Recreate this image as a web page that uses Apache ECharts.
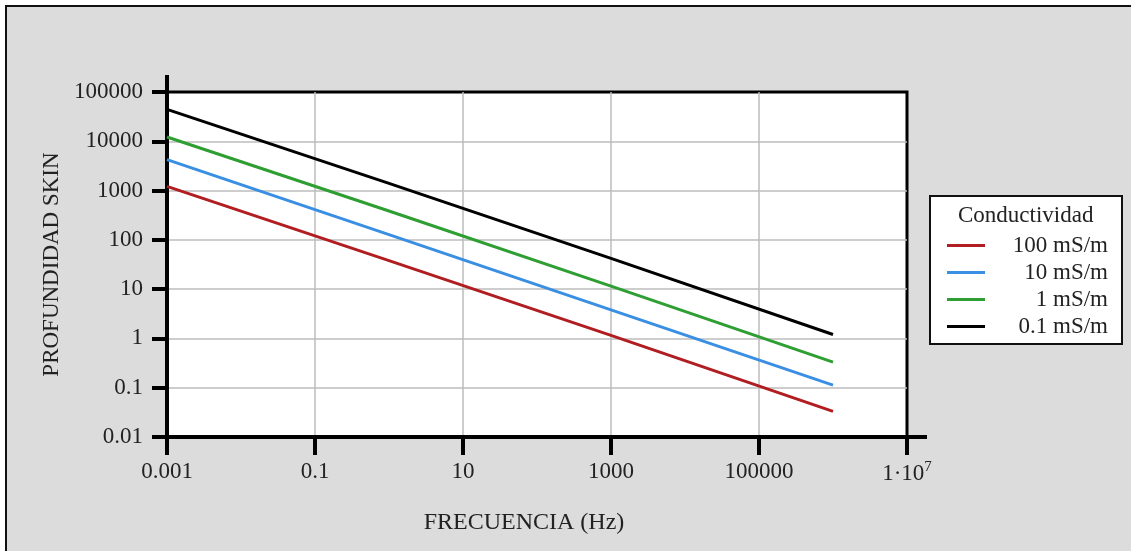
<!DOCTYPE html>
<html>
<head>
<meta charset="utf-8">
<script src="https://cdn.jsdelivr.net/npm/echarts@6/dist/echarts.min.js"></script>
<style>
  html, body { margin: 0; padding: 0; background: #ffffff; }
  #frame { position: absolute; left: 5px; top: 5px; width: 1126px; height: 546px;
           background: #dcdcdc; border-top: 2px solid #111; border-left: 2px solid #111; box-sizing: border-box; }
  #chart { position: absolute; left: 0; top: 0; width: 1131px; height: 551px; }
</style>
</head>
<body>
<div id="frame"></div>
<div id="chart"></div>
<script>
// ---- data ----
const frequencies = [0.001, 1, 1000, 1000000];           // Hz
const seriesNames = ['100 mS/m', '10 mS/m', '1 mS/m', '0.1 mS/m'];
const depth100mS  = [1220, 38, 1.15, 0.033];
const depth10mS   = [4250, 128, 3.8, 0.113];
const depth1mS    = [12200, 385, 11.5, 0.33];
const depth01mS   = [44500, 1400, 42, 1.2];
const seriesColors = ['#b01e22', '#3a8fe3', '#2f9e33', '#000000'];
const xTickLabels = ['0.001', '0.1', '10', '1000', '100000', '1·10^7'];
const yTickLabels = ['0.01', '0.1', '1', '10', '100', '1000', '10000', '100000'];
const xAxisTitle = 'FRECUENCIA (Hz)';
const yAxisTitle = 'PROFUNDIDAD SKIN';
const legendTitle = 'Conductividad';

const allDepths = [depth100mS, depth10mS, depth1mS, depth01mS];
const FONT = 'Liberation Serif';
const FS = 23;

function pairs(ys) { return frequencies.map((f, i) => [f, ys[i]]); }

const chart = echarts.init(document.getElementById('chart'), null, { renderer: 'canvas' });

const option = {
  backgroundColor: 'transparent',
  animation: false,
  grid: {
    left: 167, top: 92, right: 224, bottom: 114,
    show: true, backgroundColor: '#ffffff', borderColor: '#000', borderWidth: 3
  },
  xAxis: {
    type: 'log', logBase: 10, min: 0.001, max: 1e7, interval: 2,
    name: xAxisTitle, nameLocation: 'middle', nameGap: 74,
    nameTextStyle: { fontFamily: FONT, fontSize: 24, color: '#222', padding: [0, 26, 0, 0] },
    axisLine: { show: true, lineStyle: { color: '#000', width: 4 } },
    axisTick: { show: true, length: 18, lineStyle: { color: '#000', width: 4 } },
    axisLabel: {
      fontFamily: FONT, fontSize: FS, color: '#222', margin: 23,
      formatter: function (v) {
        const e = Math.round(Math.log10(v));
        const idx = (e + 3) / 2;
        const s = xTickLabels[idx];
        if (s && s.indexOf('^') >= 0) {
          const p = s.split('^');
          return '{b|' + p[0] + '}{s|' + p[1] + '}';
        }
        return s !== undefined ? s : '';
      },
      rich: {
        b: { fontFamily: FONT, fontSize: FS, color: '#222' },
        s: { fontFamily: FONT, fontSize: 15, color: '#222', padding: [0, 0, 13, 0] }
      }
    },
    splitLine: { show: true, showMinLine: false, showMaxLine: false, lineStyle: { color: '#bdbdbd', width: 1.5 } }
  },
  yAxis: {
    type: 'log', logBase: 10, min: 0.01, max: 100000, interval: 1,
    name: yAxisTitle, nameLocation: 'middle', nameGap: 104,
    nameTextStyle: { fontFamily: FONT, fontSize: FS, color: '#222' },
    axisLine: { show: true, lineStyle: { color: '#000', width: 4 } },
    axisTick: { show: true, length: 15, lineStyle: { color: '#000', width: 4 } },
    axisLabel: {
      fontFamily: FONT, fontSize: FS, color: '#222', margin: 24,
      formatter: function (v) {
        const e = Math.round(Math.log10(v));
        const s = yTickLabels[e + 2];
        return s !== undefined ? s : '';
      }
    },
    splitLine: { show: true, showMinLine: false, showMaxLine: false, lineStyle: { color: '#bdbdbd', width: 1.5 } }
  },
  legend: {
    orient: 'vertical', left: 930, top: 196,
    padding: [38, 14, 6, 17],
    backgroundColor: '#ffffff', borderColor: '#111', borderWidth: 2,
    icon: 'rect', itemWidth: 38, itemHeight: 3, itemGap: 4,
    data: seriesNames,
    formatter: function (n) { return '{r|' + n + '}'; },
    textStyle: {
      fontFamily: FONT, fontSize: FS, color: '#222', lineHeight: 22,
      rich: { r: { fontFamily: FONT, fontSize: FS, color: '#222', width: 118, align: 'right', lineHeight: 22 } }
    }
  },
  title: {
    text: legendTitle, left: 953, top: 199,
    textStyle: { fontFamily: FONT, fontSize: FS, fontWeight: 'normal', color: '#222' }
  },
  series: seriesNames.map((n, i) => ({
    name: n, type: 'line', data: pairs(allDepths[i]),
    showSymbol: false, symbol: 'none',
    lineStyle: { color: seriesColors[i], width: 3 },
    itemStyle: { color: seriesColors[i] },
    z: 3
  }))
};
chart.setOption(option);

// axis line overshoots (decoration only)
const p0 = chart.convertToPixel({ gridIndex: 0 }, [0.001, 100000]);
const p1 = chart.convertToPixel({ gridIndex: 0 }, [1e7, 0.01]);
chart.setOption({
  graphic: [
    { type: 'line', shape: { x1: p0[0], y1: p0[1], x2: p0[0], y2: p0[1] - 17 },
      style: { stroke: '#000', lineWidth: 4 }, z: 10 },
    { type: 'line', shape: { x1: p1[0], y1: p1[1], x2: p1[0] + 20, y2: p1[1] },
      style: { stroke: '#000', lineWidth: 4 }, z: 10 }
  ]
});
</script>
</body>
</html>
